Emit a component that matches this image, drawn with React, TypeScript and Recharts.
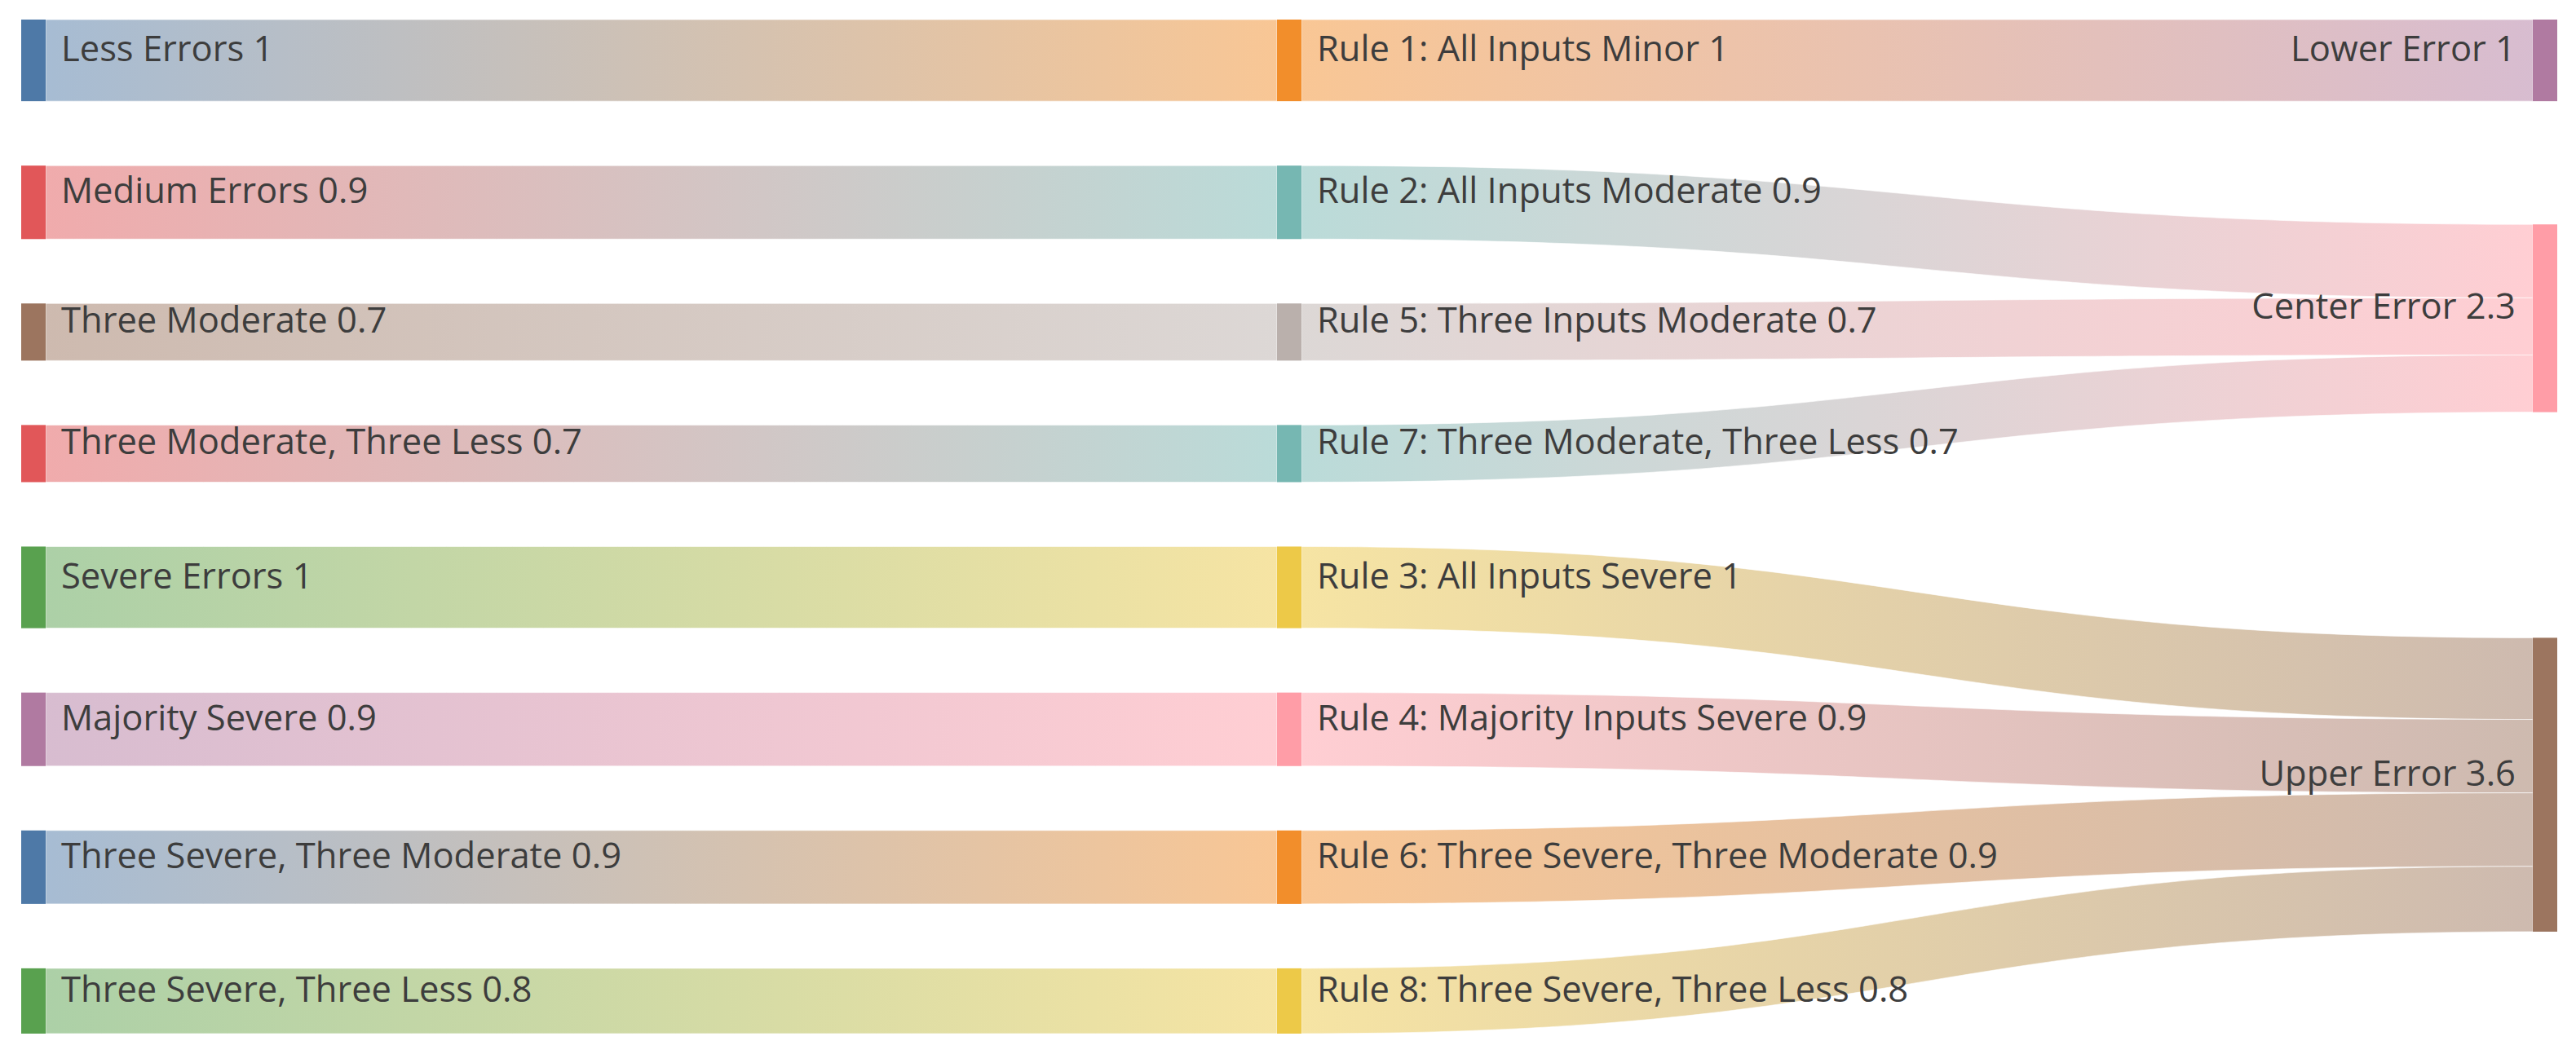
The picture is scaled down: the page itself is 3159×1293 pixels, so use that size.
import React from 'react';
import { Sankey } from 'recharts';

const BLUE = '#4e79a7';
const ORANGE = '#f28e2b';
const RED = '#e15759';
const TEAL = '#76b7b2';
const GREEN = '#59a14f';
const YELLOW = '#edc948';
const PURPLE = '#b07aa1';
const PINK = '#ff9da7';
const BROWN = '#9c755f';
const GRAY = '#bab0ac';

const inputNames = [
  'Less Errors',
  'Medium Errors',
  'Three Moderate',
  'Three Moderate, Three Less',
  'Severe Errors',
  'Majority Severe',
  'Three Severe, Three Moderate',
  'Three Severe, Three Less',
];
const inputColors = [BLUE, RED, BROWN, RED, GREEN, PURPLE, BLUE, GREEN];

const ruleNames = [
  'Rule 1: All Inputs Minor',
  'Rule 2: All Inputs Moderate',
  'Rule 5: Three Inputs Moderate',
  'Rule 7: Three Moderate, Three Less',
  'Rule 3: All Inputs Severe',
  'Rule 4: Majority Inputs Severe',
  'Rule 6: Three Severe, Three Moderate',
  'Rule 8: Three Severe, Three Less',
];
const ruleColors = [ORANGE, TEAL, GRAY, TEAL, YELLOW, PINK, ORANGE, YELLOW];
const ruleValues = [1, 0.9, 0.7, 0.7, 1, 0.9, 0.9, 0.8];

const outputNames = ['Lower Error', 'Center Error', 'Upper Error'];
const outputColors = [PURPLE, PINK, BROWN];
// which output each rule flows into
const ruleOutput = [0, 1, 1, 1, 2, 2, 2, 2];

const nodes = [
  ...inputNames.map((name, i) => ({ name, color: inputColors[i] })),
  ...ruleNames.map((name, i) => ({ name, color: ruleColors[i] })),
  ...outputNames.map((name, i) => ({ name, color: outputColors[i] })),
];

const nIn = inputNames.length;
const nRule = ruleNames.length;

const links = [
  ...ruleValues.map((v, i) => ({ source: i, target: nIn + i, value: v })),
  ...ruleValues.map((v, i) => ({ source: nIn + i, target: nIn + nRule + ruleOutput[i], value: v })),
];

const data = { nodes, links };

const fmt = (v: number) => String(Number(v.toFixed(1)));

const FONT = '"Open Sans", "Noto Sans", sans-serif';

const NodeShape = (props: any) => {
  const { x, y, width, height, payload } = props;
  const isRight = payload.depth === 2;
  const label = `${payload.name} ${fmt(payload.value)}`;
  const cy = y + height / 2;
  return (
    <g>
      <rect x={x} y={y} width={width} height={height} fill={payload.color} fillOpacity={1} />
      <text
        x={isRight ? x - 21 : x + width + 19}
        y={cy + 1}
        textAnchor={isRight ? 'end' : 'start'}
        fontFamily={FONT}
        fontSize={43.5}
        fill="#3d3d3d"
      >
        {label}
      </text>
    </g>
  );
};

const LinkShape = (props: any) => {
  const { sourceX, targetX, sourceY, targetY, sourceControlX, targetControlX, linkWidth, index, payload } = props;
  const h = linkWidth / 2;
  const id = `lg-${index}`;
  const d = `M${sourceX},${sourceY - h} C${sourceControlX},${sourceY - h} ${targetControlX},${targetY - h} ${targetX},${targetY - h} L${targetX},${targetY + h} C${targetControlX},${targetY + h} ${sourceControlX},${sourceY + h} ${sourceX},${sourceY + h} Z`;
  return (
    <g>
      <defs>
        <linearGradient id={id} gradientUnits="userSpaceOnUse" x1={sourceX} y1={0} x2={targetX} y2={0}>
          <stop offset="0%" stopColor={payload.source.color} stopOpacity={0.5} />
          <stop offset="100%" stopColor={payload.target.color} stopOpacity={0.5} />
        </linearGradient>
      </defs>
      <path d={d} fill={`url(#${id})`} stroke="#ffffff" strokeWidth={1} strokeOpacity={0.6} />
    </g>
  );
};

export default function App() {
  return (
    <div style={{ width: 3150, height: 1270 }}>
      <Sankey
        width={3150}
        height={1270}
        data={data}
        nodeWidth={30}
        nodePadding={79}
        iterations={32}
        margin={{ top: 16, right: 22, bottom: 10, left: 18 }}
        node={<NodeShape />}
        link={<LinkShape />}
      />
    </div>
  );
}
